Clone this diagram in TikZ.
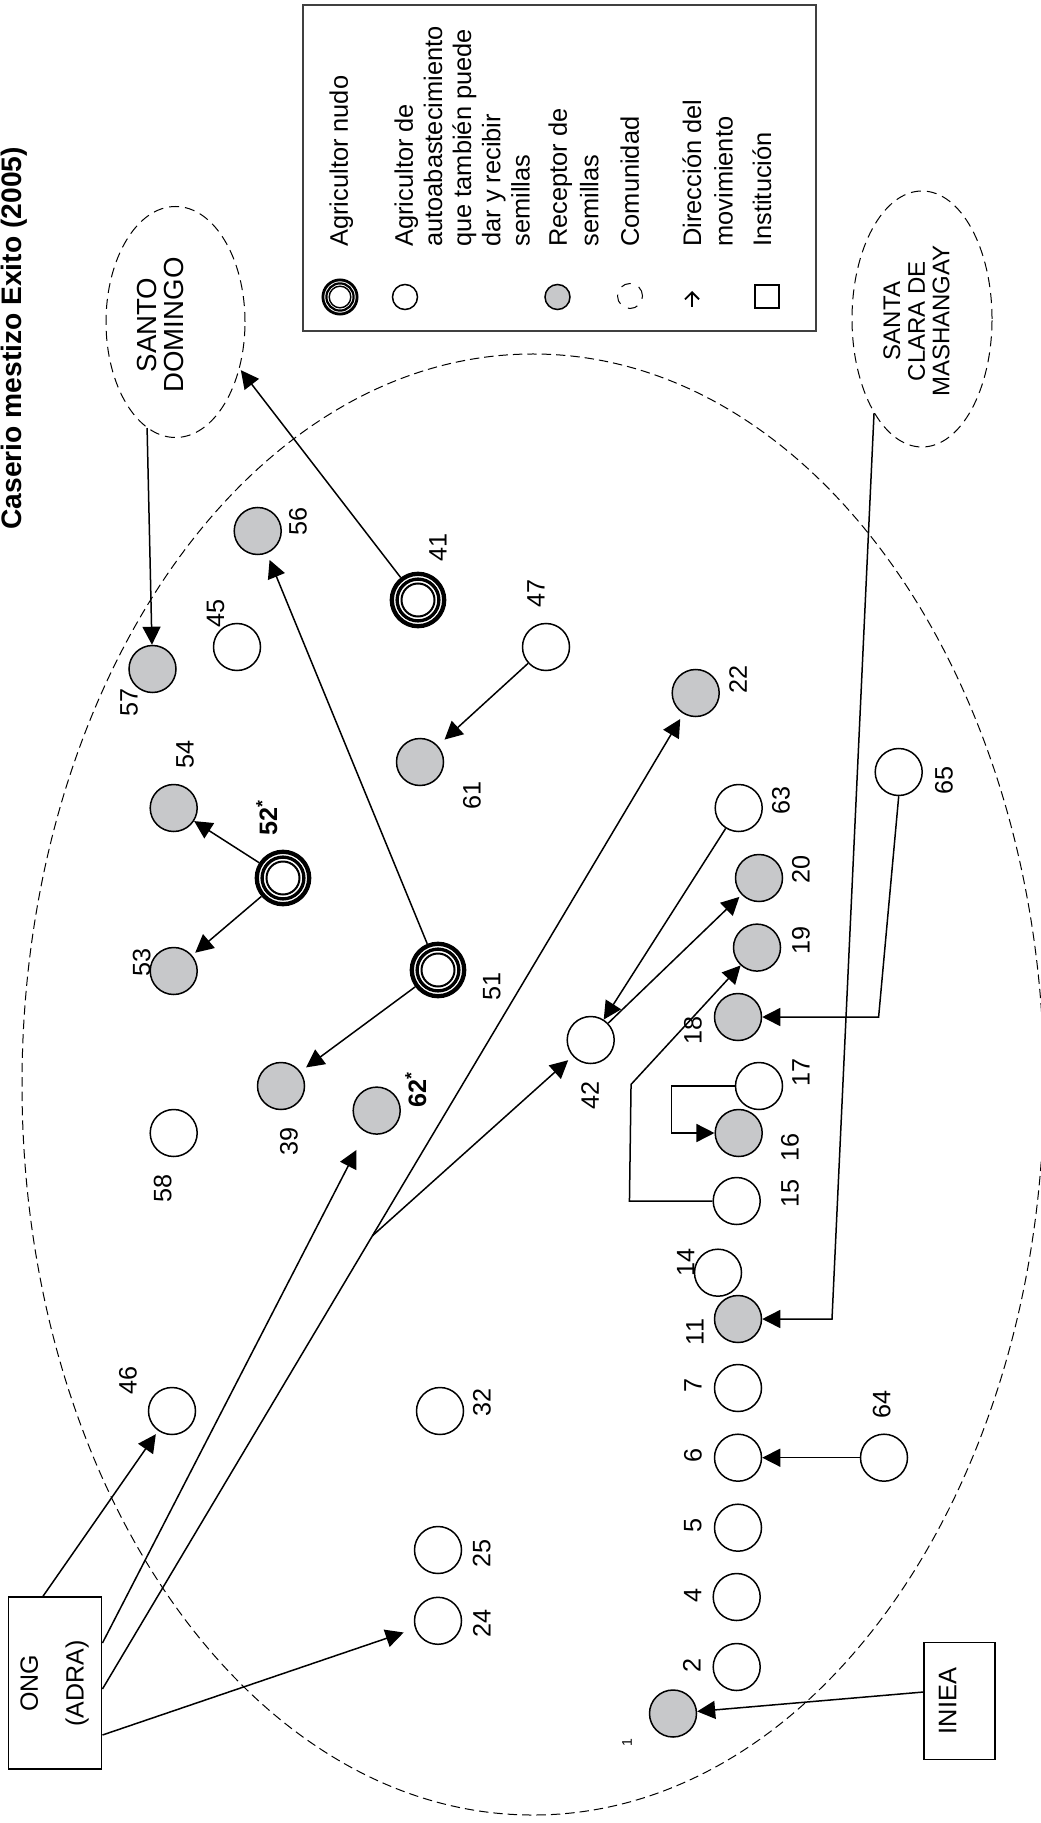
\documentclass[tikz,border=0pt]{standalone}
\usepackage{fontspec}
\setmainfont{Liberation Sans}
\usetikzlibrary{shapes.geometric,arrows.meta,calc}

\definecolor{seedgray}{RGB}{199,200,202}

\tikzset{farmer/.style={circle,draw,line width=0.75pt,minimum size=23.5pt,inner sep=0pt,fill=white}}
\tikzset{receiver/.style={farmer,fill=seedgray}}
\tikzset{nudo/.style={circle,draw,line width=2.15pt,minimum size=26.2pt,inner sep=0pt,fill=white,
    path picture={\draw[line width=1.65pt] (path picture bounding box.center) circle (10.45pt);
                  \draw[line width=1pt] (path picture bounding box.center) circle (8.25pt);}}}
\tikzset{legnudo/.style={circle,draw,line width=1.4pt,minimum size=17.1pt,inner sep=0pt,fill=white,
    path picture={\draw[line width=1.1pt] (path picture bounding box.center) circle (6.8pt);
                  \draw[line width=0.7pt] (path picture bounding box.center) circle (5.4pt);}}}
\tikzset{num/.style={rotate=90,inner sep=0pt,font=\fontsize{12.6}{14}\selectfont}}
\tikzset{flow/.style={-{Triangle[length=9pt,width=9pt]},line width=0.75pt}}
\tikzset{commune/.style={ellipse,draw,dash pattern=on 5pt off 3pt,line width=0.5pt,inner sep=0pt}}
\tikzset{institution/.style={draw,line width=0.75pt,inner sep=0pt}}
\tikzset{legtext/.style={rotate=90,anchor=north west,inner sep=0pt,align=left,font=\fontsize{12.7}{15.8}\selectfont}}

\begin{document}
\begin{tikzpicture}[x=0.5pt,y=-0.5pt]
    \useasboundingbox (0,0) rectangle (1040,1823);
    % title
    \node[rotate=90,anchor=base west,inner sep=0pt,font=\fontsize{14.1}{16}\selectfont\bfseries] (title) at (21,530) {Caserio mestizo Exito (2005)};
    % the caserio
    \draw[dash pattern=on 4.7pt off 2.5pt,line width=0.5pt] (533,1084.5) ellipse [x radius=255.5pt,y radius=365.25pt];
    % legend
    \node[draw=black!75,line width=0.6pt,minimum width=256.5pt,minimum height=163pt,inner sep=0pt] (legend) at (559.5,168) {};
    \node[legnudo] (kn) at (340,297) {};
    \node[farmer,minimum size=12.5pt] (kf) at (405,297) {};
    \node[receiver,minimum size=12.5pt] (kr) at (557.5,297) {};
    \node[commune,minimum size=12.5pt,dash pattern=on 5pt off 4.4pt] (kc) at (630,296) {};
    \coordinate (ka) at (692,307);
    \coordinate (kb) at (692,291);
    \draw[-{Straight Barb[length=3.5pt,width=7pt]},line width=0.9pt] (ka) -- (kb);
    \node[institution,minimum width=12pt,minimum height=11.5pt,line width=0.6pt] (ki) at (767,296.5) {};
    \node[legtext] (t1) at (329,247) {Agricultor nudo};
    \node[legtext,font=\fontsize{12.7}{14.6}\selectfont] (t2) at (394,247) {Agricultor de\\autoabastecimiento\\que también puede\\dar y recibir\\semillas};
    \node[legtext] (t3) at (548,247) {Receptor de\\semillas};
    \node[legtext] (t4) at (620,247) {Comunidad};
    \node[legtext] (t5) at (682,247) {Dirección del\\movimiento};
    \node[legtext] (t6) at (752,247) {Institución};
    % other communities and institutions
    \node[commune,minimum width=69.5pt,minimum height=115.5pt] (sd) at (175.5,322) {};
    \node[rotate=90,align=center,inner sep=0pt,font=\fontsize{13.8}{13.6}\selectfont] (sdname) at (160.5,325) {SANTO\\DOMINGO};
    \node[commune,minimum width=70pt,minimum height=128pt] (sc) at (922,319) {};
    \node[rotate=90,align=center,inner sep=0pt,font=\fontsize{12}{12.3}\selectfont] (scname) at (916.5,321) {SANTA\\CLARA DE\\MASHANGAY};
    \node[institution,minimum width=46.7pt,minimum height=86pt] (ong) at (55,1683) {};
    \node[rotate=90,align=center,inner sep=0pt,font=\fontsize{12.5}{14.8}\selectfont] (ongname) at (54.6,1683.5) {ONG\\[8pt](ADRA)};
    \node[institution,minimum width=35.5pt,minimum height=58.3pt] (iniea) at (959.7,1701) {};
    \node[num,font=\fontsize{12.7}{14}\selectfont] (inieaname) at (947.5,1701) {INIEA};
    % farmers
    \node[receiver] (n1) at (673,1713.5) {};
    \node[farmer] (n2) at (736.7,1667) {};
    \node[farmer] (n4) at (736.7,1597) {};
    \node[farmer] (n5) at (738,1527.7) {};
    \node[farmer] (n6) at (738,1457.7) {};
    \node[farmer] (n7) at (738,1388) {};
    \node[receiver] (n11) at (738,1319) {};
    \node[farmer] (n14) at (718,1272.7) {};
    \node[farmer] (n15) at (736.7,1201) {};
    \node[receiver] (n16) at (738.7,1133) {};
    \node[farmer] (n17) at (759,1086) {};
    \node[receiver] (n18) at (738,1017) {};
    \node[receiver] (n19) at (757,947.6) {};
    \node[receiver] (n20) at (759,878) {};
    \node[receiver] (n22) at (695.7,693) {};
    \node[farmer] (n24) at (438,1620.8) {};
    \node[farmer] (n25) at (438,1550) {};
    \node[farmer] (n32) at (440,1411) {};
    \node[receiver] (n39) at (281,1086) {};
    \node[nudo] (n41) at (418,600) {};
    \node[farmer] (n42) at (590.7,1040) {};
    \node[farmer] (n45) at (237,647) {};
    \node[farmer] (n46) at (172,1411) {};
    \node[farmer] (n47) at (546,647) {};
    \node[nudo] (n51) at (438,970) {};
    \node[nudo] (n52) at (283,878) {};
    \node[receiver] (n53) at (173.7,971) {};
    \node[receiver] (n54) at (173.7,808) {};
    \node[receiver] (n56) at (257.7,531) {};
    \node[receiver] (n57) at (152.5,669) {};
    \node[farmer] (n58) at (173.7,1133) {};
    \node[receiver] (n61) at (420,762) {};
    \node[receiver] (n62) at (376.7,1110.6) {};
    \node[farmer] (n63) at (738.7,808) {};
    \node[farmer] (n64) at (884,1457.7) {};
    \node[farmer] (n65) at (898.7,772) {};
    % numbers
    \node[num,font=\fontsize{7}{8}\selectfont] (l1) at (627,1743) {1};
    \node[num] (l2) at (691.7,1665) {2};
    \node[num] (l4) at (692.7,1595) {4};
    \node[num] (l5) at (692.7,1525.8) {5};
    \node[num] (l6) at (693,1455) {6};
    \node[num] (l7) at (693,1385) {7};
    \node[num] (l11) at (695,1332) {11};
    \node[num] (l14) at (685.7,1262) {14};
    \node[num] (l15) at (790,1193) {15};
    \node[num] (l16) at (790,1147) {16};
    \node[num] (l17) at (801,1072) {17};
    \node[num] (l18) at (693,1030) {18};
    \node[num] (l19) at (801,940) {19};
    \node[num] (l20) at (801,869) {20};
    \node[num] (l22) at (738,679) {22};
    \node[num] (l24) at (481.7,1623) {24};
    \node[num] (l25) at (481.7,1553.8) {25};
    \node[num] (l32) at (482,1402.7) {32};
    \node[num] (l39) at (289,1141) {39};
    \node[num] (l41) at (438,547) {41};
    \node[num] (l42) at (590,1095) {42};
    \node[num] (l45) at (215.5,613) {45};
    \node[num] (l46) at (128,1380) {46};
    \node[num] (l47) at (536,593) {47};
    \node[num] (l51) at (491.7,986.5) {51};
    \node[num,anchor=base west,font=\fontsize{12.6}{14}\selectfont\bfseries] (l52) at (277,836) {52\textsuperscript{*}};
    \node[num] (l53) at (141.7,962) {53};
    \node[num] (l54) at (185,754) {54};
    \node[num] (l56) at (298,521) {56};
    \node[num] (l57) at (129,702) {57};
    \node[num] (l58) at (162.7,1188) {58};
    \node[num] (l61) at (472,795) {61};
    \node[num,anchor=base west,font=\fontsize{12.6}{14}\selectfont\bfseries] (l62) at (426,1108) {62\textsuperscript{*}};
    \node[num] (l63) at (781,800.6) {63};
    \node[num] (l64) at (881.7,1404) {64};
    \node[num] (l65) at (944,780) {65};
    % seed movements
    \draw[flow] (sd.255) -- (n57);
    \draw[flow,shorten >=1pt] (n41) -- (sd.324);
    \draw[flow,shorten >=3.5pt] (n51) -- (n56);
    \draw[flow,shorten >=4.5pt] (n47) -- (n61);
    \draw[flow] (n52) -- (n54);
    \draw[flow,shorten >=2pt] (n52) -- (n53);
    \draw[flow,shorten >=3.5pt] (n51) -- (n39);
    \draw[flow,shorten >=2pt] ([xshift=-6pt]ong.north) -- (n46);
    \draw[flow,shorten >=10pt] ([yshift=20pt]ong.east) -- (n62);
    \draw[flow,shorten >=3pt] ([yshift=-3pt]ong.east) -- (n22);
    \draw[flow,shorten >=6pt] ([yshift=-26pt]ong.east) -- (n24);
    \coordinate (fork) at ($([yshift=-3pt]ong.east)!0.455!(n22)$);
    \draw[flow,shorten >=3pt] (fork) -- (n42);
    \draw[flow] (n63) -- (n42);
    \draw[flow,shorten >=1.5pt] (n42) -- (n20);
    \draw[flow] (n15.west) -- ++(-41.5pt,0) -- ++(0.8pt,58.3pt) -- (n19);
    \draw[flow] (n17.west) -- ++(-31.7pt,0) |- (n16);
    \draw[flow] (n65.south) -- ([xshift=70.3pt]n18.center) -- (n18);
    \draw[flow] (sc.243) -- ([xshift=47pt]n11.center) -- (n11);
    \draw[flow] (n64) -- (n6);
    \draw[flow] ([yshift=4.5pt]iniea.west) -- (n1);
\end{tikzpicture}
\end{document}
